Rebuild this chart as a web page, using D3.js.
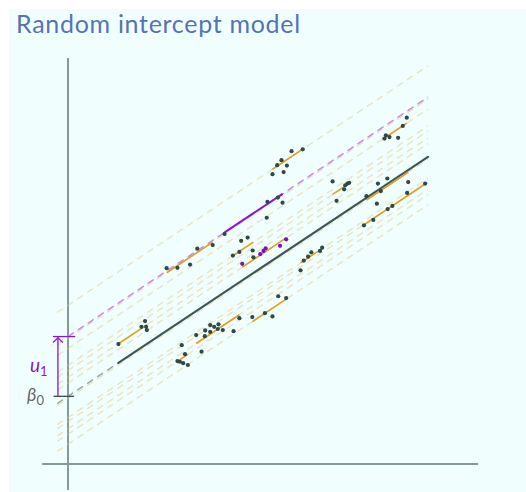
<!DOCTYPE html>
<html>
<head>
<meta charset="utf-8">
<script src="https://cdn.jsdelivr.net/npm/d3@7"></script>
<style>
  body { margin: 0; background: #fff; }
  svg { display: block; }
</style>
</head>
<body>
<div id="grafico"></div>
<script>
// fixed effects
const beta0 = 1.88;
const slope = 0.665;
const u1 = 1.66;

// groups: random intercept offset and observed points
const groupNames = ['A', 'B', 'P1', 'C', 'P', 'T', 'G1', 'G2', 'G3', 'G4', 'TR', 'D', 'E', 'F'];
const groupU = [0.53, 1.61, 1.66, 0.86, 0.37, 2.53, -0.59, 0.72, -0.06, -0.70, 1.33, -1.05, -0.90, -1.33];
const groupX = [
    [1.40, 2.14, 2.04, 2.17, 2.19],
    [2.74, 3.04, 3.39, 3.59, 4.02],
    [4.35, 5.54, 5.83, 5.96, 5.52],
    [4.58, 4.76, 4.81, 4.99, 5.13, 5.15],
    [4.84, 5.34, 5.43, 5.49, 5.89, 6.06],
    [5.68, 5.81, 5.93, 6.08, 5.99, 6.21, 6.52],
    [6.46, 6.55, 6.67, 6.76, 7.00, 7.06],
    [7.35, 7.46, 7.67, 7.70, 7.76, 7.81],
    [8.29, 8.58, 8.61, 8.69, 8.87, 9.45],
    [8.22, 8.48, 8.88, 9.01, 9.42, 9.92],
    [8.79, 8.83, 8.93, 9.17, 9.30, 9.41],
    [3.16, 3.25, 3.04, 3.11, 3.20, 3.33],
    [3.56, 3.71, 3.81, 3.80, 3.95, 3.95, 4.06, 4.18, 4.16, 4.30, 4.60, 4.76],
    [5.12, 5.47, 5.68, 5.84, 6.06]
];
const groupY = [
    [3.33, 3.97, 3.81, 3.81, 3.72],
    [5.44, 5.45, 5.54, 5.98, 6.08],
    [6.39, 7.28, 7.40, 7.26, 6.84],
    [5.79, 5.89, 6.20, 6.29, 5.93, 5.74],
    [5.56, 5.83, 5.92, 5.99, 6.06, 6.24],
    [8.05, 8.30, 8.44, 8.29, 8.11, 8.69, 8.74],
    [5.38, 5.65, 5.76, 5.88, 5.92, 6.01],
    [7.85, 7.31, 7.63, 7.74, 7.79, 7.81],
    [7.44, 7.23, 7.79, 7.58, 7.93, 7.83],
    [6.63, 6.78, 7.08, 7.17, 7.53, 7.79],
    [9.04, 9.13, 9.08, 9.06, 9.39, 9.62],
    [3.30, 3.05, 2.86, 2.84, 2.80, 2.75],
    [3.58, 3.12, 3.71, 3.55, 3.86, 3.67, 3.81, 3.88, 3.75, 3.72, 3.69, 4.05],
    [4.08, 4.19, 4.10, 4.66, 4.61]
];
const lineRange = [-0.3, 10];

const width = 526;
const height = 492;

const x = d3.scaleLinear().domain([0, 10]).range([68, 428]);
const y = d3.scaleLinear().domain([0, 10]).range([464, 104]);

const svg = d3.select('#grafico')
    .append('svg')
    .attr('width', width)
    .attr('height', height);

svg.append('rect').attr('width', width).attr('height', height).attr('fill', '#fff');
svg.append('rect')
    .attr('x', 9).attr('y', 9)
    .attr('width', width - 9).attr('height', height - 9)
    .attr('fill', '#f0fffd');

// title
svg.append('text')
    .attr('x', 16)
    .attr('y', 33)
    .attr('font-family', 'Lato, sans-serif')
    .attr('font-size', 25)
    .attr('letter-spacing', 0.7)
    .attr('fill', '#5672b6')
    .text('Random intercept model');

// axes
const axisColor = '#869a9a';
svg.append('line')
    .attr('x1', x(-0.72)).attr('x2', x(11.39))
    .attr('y1', y(0)).attr('y2', y(0))
    .attr('stroke', axisColor).attr('stroke-width', 2);
svg.append('line')
    .attr('x1', x(0)).attr('x2', x(0))
    .attr('y1', y(-0.72)).attr('y2', y(11.28))
    .attr('stroke', axisColor).attr('stroke-width', 2);

const fit = (u, xv) => beta0 + u + slope * xv;

// faint dashed line for each group
svg.append('g')
    .selectAll('line')
    .data(groupU)
    .enter()
    .append('line')
    .attr('x1', x(lineRange[0]))
    .attr('x2', x(lineRange[1]))
    .attr('y1', d => y(fit(d, lineRange[0])))
    .attr('y2', d => y(fit(d, lineRange[1])))
    .attr('stroke', '#e2c48a')
    .attr('stroke-opacity', 0.45)
    .attr('stroke-width', 1.5)
    .attr('stroke-dasharray', '7,5');

// dashed line of group 1
svg.append('line')
    .attr('x1', x(0)).attr('x2', x(lineRange[1]))
    .attr('y1', y(fit(u1, 0))).attr('y2', y(fit(u1, lineRange[1])))
    .attr('stroke', '#c98cf0')
    .attr('stroke-width', 1.5)
    .attr('stroke-dasharray', '7,5');

// fixed effect line
const allX = groupX.flat();
const xMin = d3.min(allX);
svg.append('line')
    .attr('x1', x(lineRange[0])).attr('x2', x(xMin))
    .attr('y1', y(fit(0, lineRange[0]))).attr('y2', y(fit(0, xMin)))
    .attr('stroke', '#9aa8a8')
    .attr('stroke-width', 1.5)
    .attr('stroke-dasharray', '7,5');
svg.append('line')
    .attr('x1', x(xMin)).attr('x2', x(lineRange[1]))
    .attr('y1', y(fit(0, xMin))).attr('y2', y(fit(0, lineRange[1])))
    .attr('stroke', '#3d5656')
    .attr('stroke-width', 2.2)
    .attr('stroke-linecap', 'round');

// fitted segments of each group
const segs = groupNames.map((g, i) => {
    const ext = d3.extent(groupX[i]);
    return { name: g, u: groupU[i], x0: ext[0], x1: ext[1] };
});
svg.append('g')
    .selectAll('line')
    .data(segs)
    .enter()
    .append('line')
    .attr('x1', d => x(d.x0)).attr('x2', d => x(d.x1))
    .attr('y1', d => y(fit(d.u, d.x0))).attr('y2', d => y(fit(d.u, d.x1)))
    .attr('stroke', d => d.name === 'P1' ? '#8a16d6' : '#dea025')
    .attr('stroke-width', d => d.name === 'P1' ? 2 : 1.6);

// observed points
const pts = [];
groupNames.forEach((g, i) => {
    groupX[i].forEach((xv, j) => pts.push({ g: g, x: xv, y: groupY[i][j] }));
});
svg.append('g')
    .selectAll('circle')
    .data(pts)
    .enter()
    .append('circle')
    .attr('cx', d => x(d.x))
    .attr('cy', d => y(d.y))
    .attr('r', 2.1)
    .attr('fill', d => d.g === 'P' ? '#7d0fc8' : '#2f4848');

// beta0 tick and u1 arrow
const xa = -0.28;
svg.append('line')
    .attr('x1', x(-0.4)).attr('x2', x(0.17))
    .attr('y1', y(beta0)).attr('y2', y(beta0))
    .attr('stroke', '#3a4a4a').attr('stroke-width', 1.3);
svg.append('line')
    .attr('x1', x(-0.42)).attr('x2', x(0.2))
    .attr('y1', y(beta0 + u1)).attr('y2', y(beta0 + u1))
    .attr('stroke', '#8a16d6').attr('stroke-width', 1.3);
svg.append('line')
    .attr('x1', x(xa)).attr('x2', x(xa))
    .attr('y1', y(beta0)).attr('y2', y(beta0 + u1) + 1)
    .attr('stroke', '#8a16d6').attr('stroke-width', 1.3);
const tip = [x(xa), y(beta0 + u1) + 1];
svg.append('path')
    .attr('d', `M${tip[0] - 5},${tip[1] + 5} Q${tip[0] - 1.5},${tip[1] + 2} ${tip[0]},${tip[1]} Q${tip[0] + 1.5},${tip[1] + 2} ${tip[0] + 5},${tip[1] + 5}`)
    .attr('fill', 'none')
    .attr('stroke', '#8a16d6').attr('stroke-width', 1.2);

// labels
const uLab = svg.append('text')
    .attr('x', 30)
    .attr('y', y(beta0 + u1 / 2) + 6)
    .attr('font-family', 'Lato, sans-serif')
    .attr('font-style', 'italic')
    .attr('font-size', 19)
    .attr('fill', '#8a16d6');
uLab.append('tspan').text('u');
uLab.append('tspan').attr('font-size', 13).attr('font-style', 'normal').attr('dy', 4).text('1');

const bLab = svg.append('text')
    .attr('x', 27)
    .attr('y', y(beta0) + 5)
    .attr('font-family', 'Lato, sans-serif')
    .attr('font-style', 'italic')
    .attr('font-size', 18)
    .attr('fill', '#666');
bLab.append('tspan').text('β');
bLab.append('tspan').attr('font-size', 13).attr('font-style', 'normal').attr('dy', 4).text('0');
</script>
</body>
</html>
